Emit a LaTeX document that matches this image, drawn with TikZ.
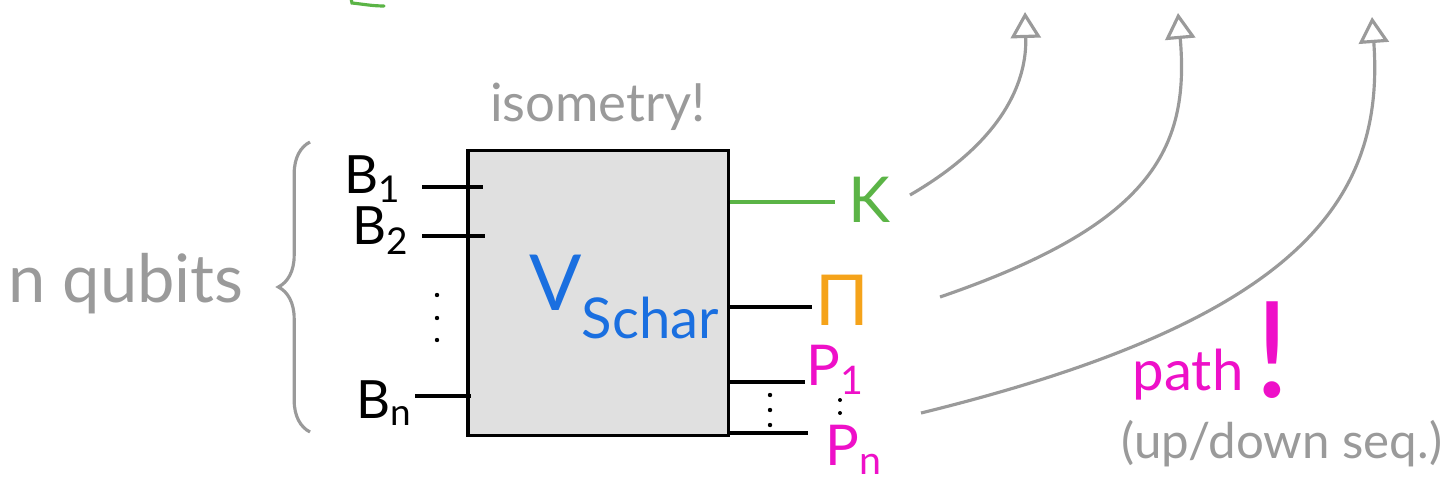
\documentclass[tikz,border=0pt]{standalone}
\usepackage{fontspec}
\setmainfont{Lato}
\usetikzlibrary{arrows.meta, decorations.pathreplacing}

\definecolor{penGray}{HTML}{9A9A9A}
\definecolor{boxGray}{HTML}{E0E0E0}
\definecolor{penGreen}{HTML}{5BB446}
\definecolor{penOrange}{HTML}{F5A31A}
\definecolor{penPink}{HTML}{EE10C8}
\definecolor{penBlue}{HTML}{1A6FE0}

\begin{document}
\begin{tikzpicture}[x=0.01cm, y=-0.01cm,
    wire/.style={line width=0.9pt},
    sketch/.style={draw=penGray, line width=0.9pt},
    bend arrow/.style={sketch, -{Triangle[open, length=0.26cm, width=0.3cm]}},
    hand/.style={anchor=base, font=\fontsize{#1}{#1}\selectfont}]
    \useasboundingbox (0,0) rectangle (1455,488);

    \coordinate (b1) at (422,187);
    \coordinate (b2) at (422,236);
    \coordinate (bn) at (415,396);
    \coordinate (k) at (835,202);
    \coordinate (m) at (812,307);
    \coordinate (p1) at (805,382);
    \coordinate (pn) at (808,433);
    \coordinate (kStart) at (910,195);
    \coordinate (kEnd) at (1025,12);
    \coordinate (mStart) at (940,297);
    \coordinate (mEnd) at (1178,13);
    \coordinate (pStart) at (921,413);
    \coordinate (pEnd) at (1372,17);

    \node [draw, fill=boxGray, line width=0.9pt, inner sep=0pt, minimum width=2.6cm, minimum height=2.85cm] (box) at (598,293) {};
    \node [hand=15, text=penGray] (iso) at (598,122) {isometry!};
    \node [hand=22, text=penBlue, anchor=base west] (V) at (517,310) {V\raisebox{-8pt}{\fontsize{16}{16}\selectfont Schar}};

    \node [hand=19, text=penGray] (qubits) at (126,302) {n qubits};
    \draw [sketch, decorate, decoration={brace, amplitude=9pt}] (310,432) -- (310,142);

    \node [hand=15] (B1) at (373,193) {B\textsubscript{1}};
    \node [hand=15] (B2) at (381,245) {B\textsubscript{2}};
    \node [hand=15] (Bn) at (385,418) {B\textsubscript{n}};
    \draw [wire] (b1) -- ([xshift=0.17cm]b1 -| box.west);
    \draw [wire] (b2) -- ([xshift=0.19cm]b2 -| box.west);
    \draw [wire] (bn) -- ([xshift=0.05cm]bn -| box.west);
    \foreach \y in {295,318,340} \fill (437,\y) circle (2.2);

    \draw [wire, draw=penGreen, line cap=round] (350,-6) -- (352,3) .. controls (362,4) and (372,6) .. (384,6);
    \node [hand=18, text=penGreen] (K) at (869,222) {K};
    \node [hand=20, text=penOrange] (M) at (842,325) {Π};
    \node [hand=16, text=penPink] (P1) at (836,385) {P\textsubscript{1}};
    \node [hand=16, text=penPink] (Pn) at (854,465) {P\textsubscript{n}};
    \draw [wire, draw=penGreen] (k -| box.east) -- (k);
    \draw [wire] (m -| box.east) -- (m);
    \draw [wire] (p1 -| box.east) -- (p1);
    \draw [wire] (pn -| box.east) -- (pn);
    \foreach \y in {395,410,425} \fill (770,\y) circle (2.2);
    \foreach \y in {400,413} \fill (840,\y) circle (2);

    \draw [bend arrow] (kStart) .. controls (1005,140) and (1027,80) .. (kEnd);
    \draw [bend arrow] (mStart) .. controls (1150,225) and (1190,150) .. (mEnd);
    \draw [bend arrow] (pStart) .. controls (1300,320) and (1385,200) .. (pEnd);

    \node [hand=16, text=penPink] (path) at (1188,390) {path};
    \node [hand=38, text=penPink] (bang) at (1272,397) {!};
    \node [hand=14, text=penGray] (seq) at (1282,458) {(up/down seq.)};
\end{tikzpicture}
\end{document}
